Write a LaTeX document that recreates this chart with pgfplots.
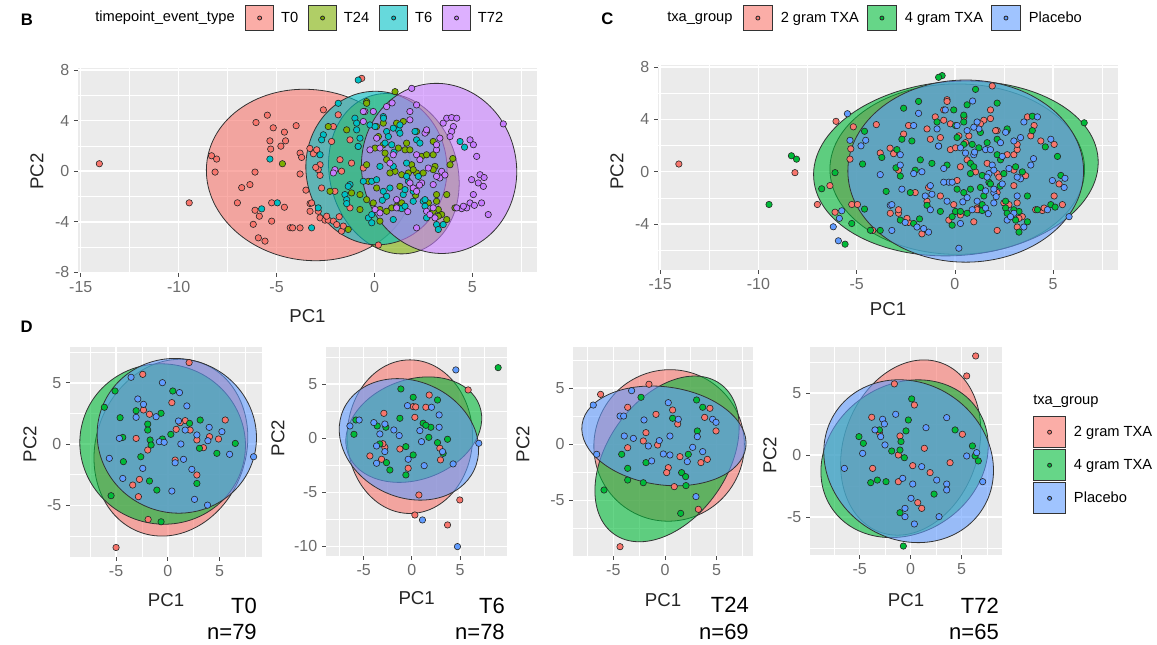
\documentclass[border=0pt]{standalone}
\usepackage{fontspec}
\setmainfont{Liberation Sans}
\usepackage{pgfplots}
\pgfplotsset{compat=1.18}
\definecolor{ggbg}{HTML}{EBEBEB}
\definecolor{cR}{HTML}{F8766D}
\definecolor{cO}{HTML}{7CAE00}
\definecolor{cC}{HTML}{00BFC4}
\definecolor{cP}{HTML}{C77CFF}
\definecolor{cG}{HTML}{00BA38}
\definecolor{cB}{HTML}{619CFF}
\definecolor{tickgray}{HTML}{6B6B6B}
\tikzset{ell/.style={fill=#1, fill opacity=0.6, draw=black!80, line width=0.6pt}}
\pgfplotsset{
  gg/.style={
    scale only axis, anchor=north west,
    axis background/.style={fill=ggbg},
    axis line style={draw=none},
    grid=both,
    major grid style={draw=white, line width=1.1pt},
    minor grid style={draw=white, line width=0.5pt},
    tick align=outside,
    xtick pos=left, ytick pos=left,
    major tick length=3pt, minor tick length=0pt,
    tick style={draw=tickgray!70!black, line width=0.6pt},
    tick label style={font=\fontsize{12}{14}\selectfont, text=tickgray},
    legend cell align=left,
    clip=true,
  },
  pts/.style={only marks, mark=*, mark size=2.4pt, mark options={fill=#1, draw=black!85, line width=0.45pt}, forget plot},
}
\newcommand{\legkey}[4]{\addlegendimage{legend image code/.code={\draw[fill=#1,fill opacity=0.6,draw=black!80,line width=0.6pt] (0pt,-#3) rectangle (#2,#3); \draw[fill=#1,draw=black!85,line width=0.6pt] (#4,0pt) circle (1.5pt);}}}
\newcommand{\ELL}[6]{\draw[ell=#1, rotate around={#6:(axis cs:#2,#3)}] (axis cs:#2,#3) ellipse [x radius=#4, y radius=#5];}
\begin{document}
\begin{tikzpicture}
\useasboundingbox (0,0) rectangle (867.75pt,-483.75pt);

% ---------------- Panel B ----------------
\begin{axis}[gg, at={(58.5pt,-51pt)}, width=344.25pt, height=153.75pt,
  xmin=-15.14, xmax=8.3, ymin=-8.05, ymax=8.16,
  xtick={-15,-10,-5,0,5}, xticklabels={-15,-10,-5,0,5}, minor xtick={-12.5,-7.5,-2.5,2.5,7.5},
  ytick={-8,-4,0,4,8}, yticklabels={-8,-4,0,4,8}, minor ytick={-6,-2,2,6},
  legend style={at={(0.3638,1.2439)}, anchor=west, draw=none, fill=none, legend columns=4,
    font=\fontsize{11}{13}\selectfont, inner sep=0pt, nodes={inner sep=0pt},
    /tikz/every odd column/.append style={column sep=5.25pt},
    /tikz/every even column/.append style={column sep=7.5pt}}]
\legkey{cR}{21pt}{9.6pt}{10.5pt}\addlegendentry{T0}
\legkey{cO}{21pt}{9.6pt}{10.5pt}\addlegendentry{T24}
\legkey{cC}{21pt}{9.6pt}{10.5pt}\addlegendentry{T6}
\legkey{cP}{21pt}{9.6pt}{10.5pt}\addlegendentry{T72}
\ELL{cR}{-3.3}{-0.3}{77.85pt}{64pt}{-8}
\ELL{cO}{0.99}{-0.2}{48pt}{60.9pt}{15}
\ELL{cC}{0.1}{0.25}{52.9pt}{57.6pt}{5}
\ELL{cP}{3.3}{0.22}{58pt}{64pt}{11}
\addplot[pts=cR] coordinates {(-14.05,0.59)(-9.46,-2.5)(-8.32,1.22)(-8.06,0.96)(-8.14,-0.07)(-5.47,4.43)(-6.05,3.85)(-5.17,3.43)(-4.6,3.09)(-5.34,2.4)(-4.54,2.4)(-4.78,1.98)(-5.3,1.75)(-6.1,-0.07)(-6.36,-1.06)(-6.78,-1.3)(-7.0,-2.5)(-6.1,-3.09)(-5.88,-3.56)(-6.19,-4.2)(-5.93,-5.27)(-5.59,-5.53)(-5.25,-3.95)(-5.25,-2.5)(-4.6,-2.85)(-4.3,-4.47)
(-3.8,1.43)(-3.72,1.09)(-3.8,-0.22)(-4.18,-4.48)(-3.8,-4.48)(-3.29,-2.56)(-3.12,1.38)(-2.95,1.69)(-2.78,0.51)(-2.87,0.12)(-2.78,-0.33)(-2.7,-1.33)(-2.87,-3.17)(-2.78,-3.69)(-2.53,-3.87)(-2.36,-3.87)(-2.1,-3.95)(-1.93,-4.22)(-1.68,-4.74)(-2.19,2.35)(-1.85,4.46)(-1.25,2.48)(-1.76,0.91)(-1.68,0)(-2.02,-1.59)(-1.17,0.64)(-0.57,0.25)(-0.65,7.34)(0.2,-5.84)(-1.25,-2.9)(-3.29,-3.17)
(-2.61,4.85)(-2.1,3.53)(-3.3,1.8)(-3.0,0.3)(-3.21,-2.51)(-2.44,-3.56)(-1.8,-3.6)(-1.59,-4.34)(-4.0,3.6)(-3.5,-1.5)};
\addplot[pts=cO] coordinates {(-4.7,0.59)(-2.36,3.53)(-2.27,-1.59)(-1.34,-4.61)(-0.4,5.5)(1.05,6.29)(0.11,3.53)(0.2,2.74)(0.45,2.09)(0.54,1.43)(1.47,3.93)(1.64,2.22)(1.56,1.69)(1.05,-0.01)(1.39,-0.28)(1.73,-0.14)(2.15,-0.14)(2.49,-0.14)(2.41,1.17)(2.66,1.3)(2.66,3.14)(3.0,2.35)(3.0,1.3)(3.09,0.38)(3.17,-1.85)(3.17,-2.38)(3.26,-3.03)(3.0,-3.17)(3.43,-3.43)(3.69,-1.85)(3.86,0.51)(4.11,-2.9)(0.62,-3.17)(0.88,-2.9)(1.13,-2.77)(1.39,-2.51)(0.28,-3.95)(-0.06,-2.51)(0.11,-1.33)(-0.31,-0.8)(-0.74,-1.85)(-0.74,-3.03)(-1.17,-1.72)(-1.42,3.27)(-0.4,0.51)(1.9,0.51)(2.15,3.14)
(-0.4,5.37)(0.45,3.8)(1.13,3.8)(0.03,1.83)(1.22,1.83)(1.81,1.69)(0.62,0.91)(0.79,-0.14)(1.98,0.12)(3.0,0.12)(1.3,-1.2)(2.1,-1.9)(2.75,-2.51)(0.28,-3.03)(-0.4,-2.25)(3.26,-3.56)(3.69,-3.82)(4.0,1.0)};
\addplot[pts=cC] coordinates {(-5.34,0.96)(-5.76,-2.98)(-4.96,-2.5)(-0.83,7.21)(-1.85,5.37)(-2.78,1.3)(-2.61,2.88)(-2.7,2.48)(-1.51,-1.85)(-1.42,-2.25)(-1.42,-2.56)(-1.25,-1.06)(-1.0,4.19)(-0.91,3.8)(-0.91,3.27)(-0.74,2.61)(-0.83,1.96)(-0.57,-0.8)(-0.31,-3.69)(-0.14,-3.43)(-0.14,-0.8)(0.11,-0.67)(0.45,4.32)(0.62,3.14)(0.54,2.22)(0.88,2.09)(1.22,3.27)(1.3,3.66)(1.47,-1.85)(1.56,-1.46)(1.64,0.64)(1.73,-0.8)(1.98,-1.59)(2.07,3.14)(2.15,2.48)(2.32,2.22)(2.49,-2.38)(2.58,-2.77)(2.66,-3.69)(3.17,-4.22)(3.26,-4.61)(3.51,-4.22)(4.37,2.35)(0.45,-1.59)(0.62,-1.98)(1.22,-2.9)(1.39,-2.96)(-3.21,-4.48)(-2.87,-2.9)(0.79,-1.33)(1.98,-2.38)(-0.23,3.66)
(0.46,4.19)(0.03,3.53)(0.96,3.4)(0.71,2.74)(1.3,3.0)(-0.83,1.96)(0.28,0.38)(0.96,0.38)(1.64,-0.41)(2.24,-0.41)(2.58,-2.25)(1.56,-2.77)(0.96,-3.82)(-0.14,-4.08)(0.4,-2.3)(-1.34,-1.2)(4.6,1.9)(1.0,1.5)};
\addplot[pts=cP] coordinates {(1.9,6.55)(0.62,5.11)(-0.49,4.72)(-0.57,3.93)(-2.02,0.12)(-2.1,-0.14)(-0.23,1.69)(0.11,2.61)(0.28,1.83)(1.81,4.06)(2.15,5.24)(3.51,3.8)(3.69,4.19)(3.94,4.24)(4.2,4.19)(4.03,3.53)(3.94,3.14)(4.88,2.48)(5.05,2.09)(5.22,1.17)(4.96,-0.67)(5.3,-0.93)(5.39,-0.28)(5.56,-1.2)(5.05,-1.85)(4.88,-2.51)(4.71,-2.9)(4.45,-2.96)(4.2,-2.9)(5.81,-3.43)(6.58,3.74)(2.15,1.3)(2.58,3.01)(3.17,1.69)(3.43,-0.01)(3.34,-0.54)(3.0,-1.06)(1.81,-0.93)(1.98,-1.33)(2.15,-1.59)(0.79,0.64)(0.96,1.3)(1.13,-2.9)(2.66,-3.17)(2.83,-3.43)(2.15,-4.48)(0.03,-3.03)(2.75,0.25)(3.86,2.74)(3.09,-3.69)(2.41,-0.93)
(-0.57,4.72)(-0.06,4.72)(0.9,5.4)(1.81,4.72)(2.66,3.27)(3.34,2.61)(3.17,2.09)(2.32,0.91)(3.17,-0.41)(3.6,-0.3)(2.3,-1.1)(1.13,-2.25)(0.28,-3.3)(3.0,-2.9)(1.7,-3.2)(4.54,-2.77)(5.1,-2.7)(5.6,-0.5)(5.47,-2.51)};
\end{axis}

% ---------------- Panel C ----------------
\begin{axis}[gg, at={(493.5pt,-48.75pt)}, width=345pt, height=153.75pt,
  xmin=-15.11, xmax=8.3, ymin=-7.5, ymax=8.15,
  xtick={-15,-10,-5,0,5}, xticklabels={-15,-10,-5,0,5}, minor xtick={-12.5,-7.5,-2.5,2.5,7.5},
  ytick={-4,0,4,8}, yticklabels={-4,0,4,8}, minor ytick={-6,-2,2,6},
  legend style={at={(0.1841,1.229)}, anchor=west, draw=none, fill=none, legend columns=3,
    font=\fontsize{11}{13}\selectfont, inner sep=0pt, nodes={inner sep=0pt},
    /tikz/every odd column/.append style={column sep=6pt},
    /tikz/every even column/.append style={column sep=6pt}}]
\legkey{cR}{21.75pt}{9.6pt}{10.9pt}\addlegendentry{2 gram TXA}
\legkey{cG}{21.75pt}{9.6pt}{10.9pt}\addlegendentry{4 gram TXA}
\legkey{cB}{21.75pt}{9.6pt}{10.9pt}\addlegendentry{Placebo}
\ELL{cR}{0.12}{0.2}{95.5pt}{63.9pt}{0}
\ELL{cG}{0.05}{0.25}{106.9pt}{65.3pt}{4}
\ELL{cB}{0.55}{0.05}{88.4pt}{68.3pt}{0}
\addplot[pts=cR] coordinates {(-14.05,0.59)(-8.14,-0.07)(-6.05,3.85)(-5.17,3.43)(-5.3,1.75)(-6.36,-1.06)(-7.0,-2.5)(-6.1,-3.09)(-5.25,-2.5)(-5.34,0.96)(-4.96,-2.5)
(-3.8,1.43)(-4.18,-4.48)(-3.12,1.38)(-2.87,0.12)(-2.87,-3.17)(-2.36,-3.87)(-1.68,-4.74)(-1.25,2.48)(-2.02,-1.59)(-3.29,-3.17)
(-2.36,3.53)(-0.4,5.5)(0.2,2.74)(1.47,3.93)(1.05,-0.01)(2.15,-0.14)(2.66,1.3)(3.0,1.3)(3.17,-2.38)(3.43,-3.43)(4.11,-2.9)(1.13,-2.77)(-0.06,-2.51)(-0.74,-1.85)(-1.42,3.27)(2.15,3.14)
(-2.61,2.88)(-1.42,-2.25)(-1.0,4.19)(-0.74,2.61)(-0.31,-3.69)(0.11,-0.67)(0.54,2.22)(1.3,3.66)(1.64,0.64)(2.07,3.14)(2.49,-2.38)(3.17,-4.22)(4.37,2.35)(1.22,-2.9)(-2.87,-2.9)(-0.23,3.66)
(1.9,6.55)(-0.57,3.93)(-0.23,1.69)(1.81,4.06)(3.69,4.19)(4.03,3.53)(5.05,2.09)(5.3,-0.93)(5.05,-1.85)(4.45,-2.96)(3.17,1.69)(3.0,-1.06)(2.15,-1.59)(1.13,-2.9)(2.15,-4.48)(3.86,2.74)
(0.46,4.19)(0.71,2.74)(0.28,0.38)(2.24,-0.41)(0.96,-3.82)(-1.34,-1.2)(-0.4,5.37)(0.03,1.83)(0.62,0.91)(3.0,0.12)(2.75,-2.51)(3.26,-3.56)(-0.57,4.72)(1.81,4.72)(3.17,2.09)(3.6,-0.3)(0.28,-3.3)(4.54,-2.77)(5.47,-2.51)(-3.3,1.8)(-2.44,-3.56)(-4.0,3.6)};
\addplot[pts=cG] coordinates {(-9.46,-2.5)(-8.32,1.22)(-8.06,0.96)(-4.6,3.09)(-6.1,-0.07)(-6.78,-1.3)(-5.59,-5.53)(-5.25,-3.95)(-4.6,-2.85)(-4.3,-4.47)(-4.7,0.59)
(-3.72,1.09)(-3.8,-4.48)(-2.95,1.69)(-2.78,-0.33)(-2.78,-3.69)(-2.1,-3.95)(-2.19,2.35)(-1.76,0.91)(-1.17,0.64)(-0.65,7.34)
(-2.27,-1.59)(1.05,6.29)(0.45,2.09)(1.64,2.22)(1.39,-0.28)(2.49,-0.14)(2.66,3.14)(3.09,0.38)(3.26,-3.03)(3.69,-1.85)(0.62,-3.17)(1.39,-2.51)(0.11,-1.33)(-0.74,-3.03)(-0.4,0.51)
(-0.83,7.21)(-1.85,5.37)(-2.7,2.48)(-1.42,-2.56)(-0.91,3.8)(-0.83,1.96)(-0.14,-3.43)(0.45,4.32)(0.88,2.09)(1.47,-1.85)(1.73,-0.8)(2.15,2.48)(2.58,-2.77)(3.26,-4.61)(0.45,-1.59)(1.39,-2.96)(0.79,-1.33)
(0.62,5.11)(-2.02,0.12)(0.11,2.61)(2.15,5.24)(3.94,4.24)(3.94,3.14)(5.22,1.17)(5.39,-0.28)(4.88,-2.51)(4.2,-2.9)(6.58,3.74)(2.15,1.3)(3.43,-0.01)(1.81,-0.93)(0.79,0.64)(2.66,-3.17)(0.03,-3.03)(3.09,-3.69)
(0.03,3.53)(1.3,3.0)(0.96,0.38)(2.58,-2.25)(-0.14,-4.08)(4.6,1.9)(0.45,3.8)(1.22,1.83)(0.79,-0.14)(1.3,-1.2)(0.28,-3.03)(3.69,-3.82)(-0.06,4.72)(2.66,3.27)(2.32,0.91)(2.3,-1.1)(3.0,-2.9)(5.1,-2.7)(-2.61,4.85)(-3.0,0.3)(-1.8,-3.6)(-3.5,-1.5)};
\addplot[pts=cB] coordinates {(-5.47,4.43)(-5.34,2.4)(-4.54,2.4)(-4.78,1.98)(-5.88,-3.56)(-6.19,-4.2)(-5.93,-5.27)(-5.76,-2.98)
(-3.8,-0.22)(-3.29,-2.56)(-2.78,0.51)(-2.7,-1.33)(-2.53,-3.87)(-1.93,-4.22)(-1.85,4.46)(-1.68,0)(-0.57,0.25)(0.2,-5.84)(-1.25,-2.9)
(-1.34,-4.61)(0.11,3.53)(0.54,1.43)(1.56,1.69)(1.73,-0.14)(2.41,1.17)(3.0,2.35)(3.17,-1.85)(3.0,-3.17)(3.86,0.51)(0.88,-2.9)(0.28,-3.95)(-0.31,-0.8)(-1.17,-1.72)(1.9,0.51)
(-2.78,1.3)(-1.51,-1.85)(-1.25,-1.06)(-0.91,3.27)(-0.57,-0.8)(-0.14,-0.8)(0.62,3.14)(1.22,3.27)(1.56,-1.46)(1.98,-1.59)(2.32,2.22)(2.66,-3.69)(3.51,-4.22)(0.62,-1.98)(-3.21,-4.48)(1.98,-2.38)
(-0.49,4.72)(-2.1,-0.14)(0.28,1.83)(3.51,3.8)(4.2,4.19)(4.88,2.48)(4.96,-0.67)(5.56,-1.2)(4.71,-2.9)(5.81,-3.43)(2.58,3.01)(3.34,-0.54)(1.98,-1.33)(0.96,1.3)(2.83,-3.43)(2.75,0.25)(2.41,-0.93)
(0.96,3.4)(-0.83,1.96)(1.64,-0.41)(1.56,-2.77)(0.4,-2.3)(1.0,1.5)(1.13,3.8)(1.81,1.69)(1.98,0.12)(2.1,-1.9)(-0.4,-2.25)(4.0,1.0)(0.9,5.4)(3.34,2.61)(3.17,-0.41)(1.13,-2.25)(1.7,-3.2)(5.6,-0.5)(-2.1,3.53)(-3.21,-2.51)(-1.59,-4.34)};
\end{axis}

% ---------------- Panel D1 (T0) ----------------
\begin{axis}[gg, at={(52.5pt,-260pt)}, width=144pt, height=157.5pt,
  xmin=-9.45, xmax=9.1, ymin=-9.2, ymax=7.95,
  xtick={-5,0,5}, xticklabels={-5,0,5}, minor xtick={-7.5,-2.5,2.5,7.5},
  ytick={-5,0,5}, yticklabels={-5,0,5}, minor ytick={-7.5,-2.5,2.5,7.5}]
\ELL{cR}{0.3}{-0.3}{56.25pt}{67.5pt}{-20}
\ELL{cG}{-0.5}{0}{62.25pt}{60pt}{-15}
\ELL{cB}{0.87}{0.67}{60pt}{57.75pt}{-20}
\addplot[pts=cR] coordinates {(-2.42,5.69)(2.06,6.65)(0.39,3.38)(-2.35,2.78)(-1.77,2.43)(-3.06,0.46)(1.68,1.91)(0.81,1.2)(2.16,1.14)(2.81,0.33)(4.03,0.6)(3.45,-0.3)(4.9,0.41)(5.55,1.96)(-1.94,-0.49)(0.71,-1.31)(2.81,-2.53)(-2.74,-2.89)(-3.39,-3.35)(-2.84,-4.3)(-1.9,-6.16)(-5.0,-8.45)(1.19,1.74)};
\addplot[pts=cG] coordinates {(-5.1,4.33)(-6.13,3.0)(-4.61,2.15)(0.48,4.33)(-3.06,2.72)(-1.94,1.63)(-1.94,1.14)(-0.65,2.51)(-1.71,0.33)(-0.52,0.41)(0.29,0.79)(-4.35,0.54)(2.1,1.69)(3.13,1.96)(3.06,-0.35)(4.74,-0.76)(6.52,0.05)(-1.61,-0.08)(-2.61,-1.04)(-4.29,-1.44)(-1.77,-3.02)(-1.06,-3.76)(2.81,-3.22)(-5.48,-4.22)(-0.65,-6.35)};
\addplot[pts=cB] coordinates {(-3.55,5.45)(-0.52,5.01)(1.13,4.2)(-2.9,3.68)(-2.35,3.24)(-3.06,2.18)(-1.13,2.23)(1.84,3.11)(1.03,1.88)(1.68,1.14)(2.81,0.74)(4.0,1.36)(5.23,1.01)(-0.81,0.19)(-0.35,0.14)(1.26,0.0)(3.87,0.27)(5.97,-0.84)(8.29,-1.04)(-5.65,-1.17)(-4.35,-2.81)(-2.42,-1.99)(0.71,-1.53)(1.52,-1.25)(2.32,-2.07)(0.39,-3.84)(2.58,-4.52)(3.84,-4.99)(-4.68,0.46)};
\end{axis}

% ---------------- Panel D2 (T6) ----------------
\begin{axis}[gg, at={(244.5pt,-260pt)}, width=136pt, height=157pt,
  xmin=-8.9, xmax=9.9, ymin=-10.88, ymax=8.47,
  xtick={-5,0,5}, xticklabels={-5,0,5}, minor xtick={-7.5,-2.5,2.5,7.5},
  ytick={-10,-5,0,5}, yticklabels={-10,-5,0,5}, minor ytick={-7.5,-2.5,2.5,7.5}]
\ELL{cR}{-0.2}{0.15}{47pt}{57.6pt}{0}
\ELL{cG}{0.2}{0.8}{52.5pt}{37.5pt}{20}
\ELL{cB}{-0.3}{-0.1}{54pt}{43.5pt}{-25}
\addplot[pts=cR] coordinates {(5.84,4.47)(1.8,4.0)(0.14,2.93)(0.4,2.9)(1.45,2.87)(0.31,1.94)(-2.9,2.31)(-4.35,-1.63)(-2.8,-0.83)(-3.0,-0.5)(-1.24,-0.99)(2.9,-0.92)(2.97,-2.0)(-0.38,-2.77)(0.73,-5.24)(4.97,-5.7)(0.31,-7.09)(3.7,-8.01)(-3.14,-1.94)};
\addplot[pts=cG] coordinates {(-1.14,4.56)(0.14,3.79)(2.66,3.54)(-5.8,1.69)(-6.0,0.37)(-3.59,1.14)(-2.69,1.02)(-1.24,1.85)(1.17,1.39)(1.97,1.02)(1.45,1.2)(1.76,0.09)(3.7,-0.09)(2.66,-0.4)(3.25,-1.39)(-3.32,-0.52)(-2.63,-2.25)(-2.28,-2.93)(-0.62,-0.77)(0.14,-1.54)(-0.62,-3.39)(8.95,6.53)};
\addplot[pts=cB] coordinates {(4.56,6.32)(-0.45,3.02)(2.04,2.87)(2.83,2.16)(-6.42,1.14)(-5.46,1.69)(-3.94,1.45)(-2.8,1.32)(-1.87,0.77)(-1.31,0.25)(-3.32,0.4)(-3.66,-0.71)(-2.8,-1.23)(0.83,0.71)(1.0,-0.31)(2.83,1.02)(3.18,-1.23)(1.28,-2.53)(4.28,-2.37)(6.94,-0.46)(-3.66,-2.31)(-0.38,-1.94)(1.1,-7.55)(4.73,-10.01)};
\end{axis}

% ---------------- Panel D3 (T24) ----------------
\begin{axis}[gg, at={(430pt,-260pt)}, width=134.5pt, height=157pt,
  xmin=-8.87, xmax=8.49, ymin=-9.95, ymax=8.7,
  xtick={-5,0,5}, xticklabels={-5,0,5}, minor xtick={-7.5,-2.5,2.5,7.5},
  ytick={-10,-5,0,5}, yticklabels={-10,-5,0,5}, minor ytick={-7.5,-2.5,2.5,7.5}]
\ELL{cR}{0.4}{-0.1}{56.25pt}{57pt}{-30}
\ELL{cG}{0.2}{-1.3}{69pt}{45pt}{55}
\ELL{cB}{-0.1}{0.75}{62pt}{36.75pt}{-8}
\addplot[pts=cR] coordinates {(-6.23,4.45)(-1.55,5.35)(-3.61,3.3)(-0.87,2.67)(0.74,3.06)(1.23,1.81)(3.84,2.4)(4.35,3.21)(4.94,1.19)(-1.84,1.04)(-2.1,0.3)(-0.71,-0.06)(-3.61,-0.3)(1.45,-1.1)(3.48,-1.63)(4.1,-1.34)(0.32,-2.08)(0.16,-2.52)(0.9,-3.77)(3.23,-5.79)(-4.35,-9.12)};
\addplot[pts=cG] coordinates {(-2.32,4.19)(3.06,3.95)(3.65,3.3)(0.74,2.32)(3.13,1.19)(-4.19,-0.89)(-3.61,-2.14)(-3.61,-3.18)(-1.84,-1.63)(-2.1,-3.42)(2.26,-0.89)(1.61,-2.52)(2.0,-2.88)(2.03,-3.68)(-5.9,-4.07)(1.52,-6.15)};
\addplot[pts=cB] coordinates {(-3.23,4.78)(-6.94,3.5)(-4.35,2.52)(-4.0,2.52)(0.32,3.71)(1.29,2.23)(-2.03,2.17)(4.61,2.23)(4.94,1.96)(3.13,0.68)(2.68,-0.27)(3.65,-0.65)(-6.61,-0.89)(-3.94,0.74)(-3.06,0.53)(-1.61,-0.15)(-0.55,0.33)(0.48,0.74)(-0.16,-0.86)(0.48,-0.95)(-1.29,-1.48)(2.16,-1.54)(3.0,-4.66)};
\end{axis}

% ---------------- Panel D4 (T72) ----------------
\begin{axis}[gg, at={(607.5pt,-260pt)}, width=143.75pt, height=156.25pt,
  xmin=-9.87, xmax=8.92, ymin=-8.06, ymax=8.73,
  xtick={-5,0,5}, xticklabels={-5,0,5}, minor xtick={-7.5,-2.5,2.5,7.5},
  ytick={-5,0,5}, yticklabels={-5,0,5}, minor ytick={-7.5,-2.5,2.5,7.5},
  legend style={at={(1.163,0.667)}, anchor=north west, draw=none, fill=none, legend columns=1,
    font=\fontsize{11}{13}\selectfont, inner sep=0pt, nodes={inner sep=0pt}, row sep=1pt,
    /tikz/every odd column/.append style={column sep=6pt}}]
\legkey{cR}{24pt}{11.6pt}{12pt}\addlegendentry{2 gram TXA}
\legkey{cG}{24pt}{11.6pt}{12pt}\addlegendentry{4 gram TXA}
\legkey{cB}{24pt}{11.6pt}{12pt}\addlegendentry{Placebo}
\ELL{cR}{0}{0.6}{50.25pt}{67.5pt}{-20}
\ELL{cG}{-0.6}{-0.3}{66pt}{55.5pt}{35}
\ELL{cB}{-0.2}{-0.5}{66pt}{58.5pt}{-35}
\addplot[pts=cR] coordinates {(6.37,7.98)(5.49,6.37)(-1.6,5.73)(0.36,4.03)(-3.82,3.04)(-3.07,1.8)(-1.05,1.53)(1.34,0.54)(-1.21,0)(-3.73,-1.08)(0.2,-0.86)(1.9,-1.42)(3.86,-0.62)(5.07,1.67)(-1.21,-2.15)(0.69,-3.84)(1.08,-4.3)};
\addplot[pts=cG] coordinates {(0.1,4.52)(-0.23,2.82)(-0.46,1.94)(-0.95,1.08)(-1.86,0.32)(-1.05,0.4)(-0.62,-0.22)(-3.07,2.02)(-5.07,1.48)(-4.64,0.94)(-3.92,-2.23)(-3.27,-2.02)(-2.42,-2.15)(4.35,2.02)(6.05,0.73)(6.31,-0.08)(6.63,-0.48)(2.29,-3.15)(-1.05,-4.65)(-0.72,-7.34)};
\addplot[pts=cB] coordinates {(-2.75,2.88)(-2.58,2.5)(-3.5,2.02)(-2.94,1.48)(-2.52,0.81)(-1.47,3.28)(1.5,2.2)(3.53,3.01)(-4.71,0.13)(-6.5,-1.08)(1.08,-0.94)(2.55,-2.02)(3.53,-2.34)(3.53,-2.82)(5.49,-0.08)(6.47,0.19)(7.06,-2.15)(-0.78,-1.88)(0.2,-2.34)(-0.56,-4.3)(-0.56,-4.97)(0.36,-5.56)(2.78,-4.97)(0.03,-3.49)};
\end{axis}

% ---------------- Text ----------------
\node[font=\bfseries\fontsize{12.5}{14}\selectfont] at (20.25pt,-15pt) {B};
\node[font=\bfseries\fontsize{12.5}{14}\selectfont] at (455.6pt,-14.25pt) {C};
\node[font=\bfseries\fontsize{12.5}{14}\selectfont] at (20pt,-245.25pt) {D};
\node[anchor=west, inner sep=0pt, font=\fontsize{11}{13}\selectfont] at (71.25pt,-13.5pt) {timepoint\_event\_type};
\node[anchor=west, inner sep=0pt, font=\fontsize{11}{13}\selectfont] at (500.25pt,-13.5pt) {txa\_group};
\node[anchor=west, inner sep=0pt, font=\fontsize{11}{13}\selectfont] at (774.75pt,-301.3pt) {txa\_group};
\begin{scope}[every node/.style={font=\fontsize{14}{16}\selectfont, text=black!85}]
\node at (230.6pt,-237pt) {PC1};
\node[rotate=90] at (27.75pt,-128.6pt) {PC2};
\node at (666pt,-231.75pt) {PC1};
\node[rotate=90] at (462.75pt,-128.8pt) {PC2};
\node at (124.5pt,-450pt) {PC1};
\node[rotate=90] at (22.5pt,-333pt) {PC2};
\node at (312.5pt,-448.9pt) {PC1};
\node[rotate=90] at (208.5pt,-328.5pt) {PC2};
\node at (497.25pt,-450pt) {PC1};
\node[rotate=90] at (392.25pt,-333pt) {PC2};
\node at (679.5pt,-450pt) {PC1};
\node[rotate=90] at (577.5pt,-341.25pt) {PC2};
\end{scope}
\begin{scope}[every node/.style={font=\fontsize{16.5}{19}\selectfont, anchor=east, inner sep=0pt}]
\node at (192.75pt,-454.5pt) {T0};
\node at (192.75pt,-474pt) {n=79};
\node at (378.75pt,-454.5pt) {T6};
\node at (378.75pt,-474pt) {n=78};
\node at (561.75pt,-453.75pt) {T24};
\node at (561.75pt,-474pt) {n=69};
\node at (749.25pt,-454.5pt) {T72};
\node at (749.25pt,-474pt) {n=65};
\end{scope}
\end{tikzpicture}
\end{document}
